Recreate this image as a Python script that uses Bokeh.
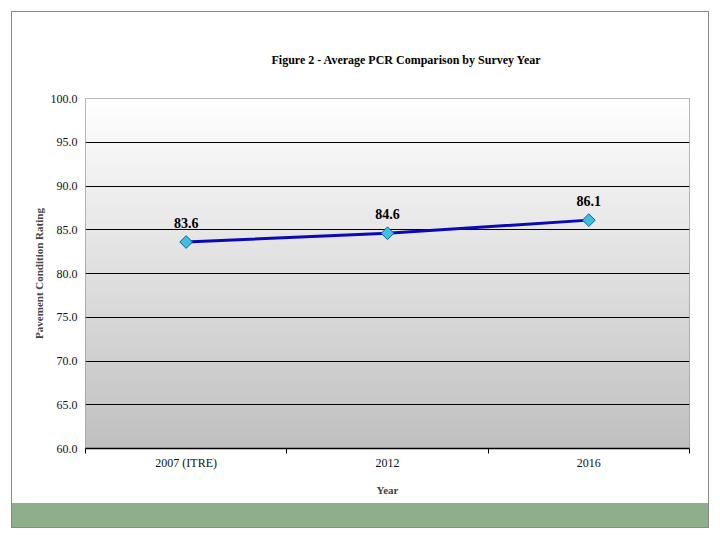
import numpy as np
from bokeh.plotting import figure
from bokeh.layouts import column
from bokeh.models import (ColumnDataSource, FixedTicker, Range1d, LabelSet, Div, Title)
from bokeh.embed import file_html
from bokeh.resources import INLINE

categories = ["2007 (ITRE)", "2012", "2016"]
pcr_values = [83.6, 84.6, 86.1]
value_labels = ["83.6", "84.6", "86.1"]
y_ticks = [60, 65, 70, 75, 80, 85, 90, 95, 100]
title_text = "Figure 2 - Average PCR Comparison by Survey Year"

FONT = "Liberation Serif"

x_pos = [i + 0.5 for i in range(len(categories))]
src = ColumnDataSource(dict(x=x_pos, y=pcr_values, lbl=value_labels))

W, H = 696, 491
p = figure(width=W, height=H, output_backend="svg", toolbar_location=None,
           x_range=Range1d(0, len(categories)), y_range=Range1d(60, 100),
           min_border_left=73, min_border_right=19, min_border_top=86,
           min_border_bottom=55, margin=0, title=title_text)

p.title.text_font = FONT
p.title.text_font_size = "12px"
p.title.text_font_style = "bold"
p.title.align = "left"
p.title.offset = 186
p.title.text_color = "#000000"

# spacer between title and plot area
p.add_layout(Title(text=" ", text_font_size="7px", standoff=18), "above")

p.background_fill_color = None
p.border_fill_color = "white"
p.outline_line_color = "#a0a0a0"
p.outline_line_width = 1

# gradient plot area (white -> gray)
n = 256
top = np.array([255, 255, 255], dtype=float)
bot = np.array([192, 192, 192], dtype=float)
t = np.linspace(0, 1, n)[:, None]
rgb = (bot * (1 - t) + top * t).astype(np.uint8)
img = np.zeros((n, 1), dtype=np.uint32)
view = img.view(dtype=np.uint8).reshape((n, 1, 4))
view[:, 0, 0] = rgb[:, 0]
view[:, 0, 1] = rgb[:, 1]
view[:, 0, 2] = rgb[:, 2]
view[:, 0, 3] = 255
p.image_rgba(image=[img], x=p.x_range.start, y=p.y_range.start,
             dw=p.x_range.end - p.x_range.start, dh=p.y_range.end - p.y_range.start,
             level="image")

# grid
p.xgrid.grid_line_color = None
p.ygrid.ticker = FixedTicker(ticks=y_ticks[1:-1])
p.ygrid.grid_line_color = "black"
p.ygrid.grid_line_width = 1
p.ygrid.level = "underlay"

# y axis
p.yaxis.ticker = FixedTicker(ticks=y_ticks)
p.yaxis.major_label_overrides = {v: f"{v:.1f}" for v in y_ticks}
p.yaxis.axis_line_color = None
p.yaxis.major_tick_line_color = None
p.yaxis.minor_tick_line_color = None
p.yaxis.major_label_text_font = FONT
p.yaxis.major_label_text_font_size = "12px"
p.yaxis.major_label_text_color = "#111111"
p.yaxis.major_label_standoff = 2
p.yaxis.axis_label = "Pavement Condition Rating"
p.yaxis.axis_label_text_font = FONT
p.yaxis.axis_label_text_font_size = "11px"
p.yaxis.axis_label_text_font_style = "bold"
p.yaxis.axis_label_standoff = 3

# x axis: labels at category centres, ticks at boundaries
p.xaxis.ticker = FixedTicker(ticks=x_pos, minor_ticks=list(range(len(categories) + 1)))
p.xaxis.major_label_overrides = {x: c for x, c in zip(x_pos, categories)}
p.xaxis.axis_line_color = "black"
p.xaxis.axis_line_width = 1.5
p.xaxis.major_tick_line_color = None
p.xaxis.minor_tick_line_color = "black"
p.xaxis.minor_tick_in = 0
p.xaxis.minor_tick_out = 5
p.xaxis.major_label_text_font = FONT
p.xaxis.major_label_text_font_size = "12px"
p.xaxis.major_label_text_color = "#111111"
p.xaxis.major_label_standoff = 1
p.xaxis.axis_label = "Year"
p.xaxis.axis_label_text_font = FONT
p.xaxis.axis_label_text_font_size = "11px"
p.xaxis.axis_label_text_font_style = "bold"
p.xaxis.axis_label_standoff = 11

# data
p.line("x", "y", source=src, line_color="#0a0ab4", line_width=3)
p.scatter("x", "y", source=src, marker="square", angle=np.pi / 4, size=9,
          fill_color="#3cc0e0", line_color="#1a5a9a", line_width=1)
labels = LabelSet(x="x", y="y", text="lbl", source=src, x_offset=0, y_offset=14,
                  text_align="center", text_baseline="bottom",
                  text_font=FONT, text_font_size="14px", text_font_style="bold",
                  text_color="black")
p.add_layout(labels)

band = Div(text="", width=W, height=24, margin=0,
           styles={"background-color": "#8fae8c"})

page = column(p, band, margin=(11, 0, 0, 11), spacing=0,
              styles={"border": "1px solid #8a8a8a"})

open("out.html", "w").write(file_html(page, INLINE))
